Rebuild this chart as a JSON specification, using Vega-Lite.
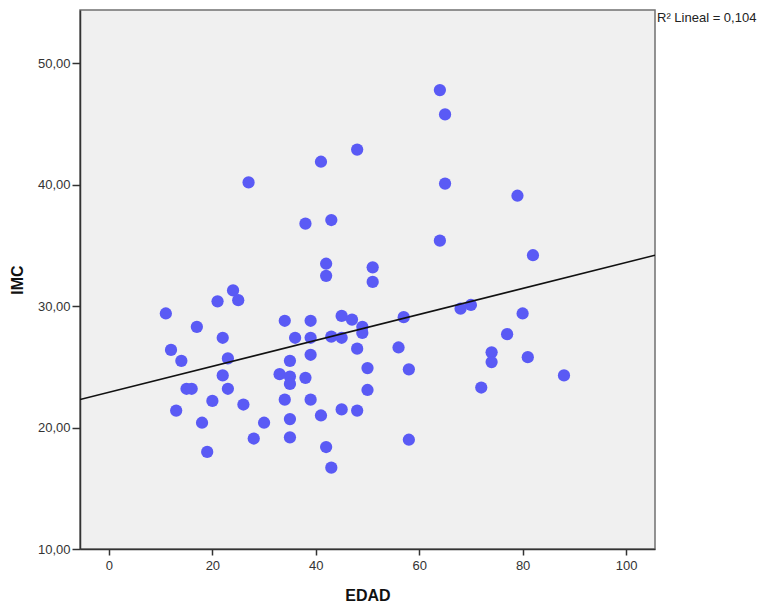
{
  "$schema": "https://vega.github.io/schema/vega-lite/v6.json",
  "autosize": "none",
  "width": 575,
  "height": 539,
  "padding": {"left": 80, "top": 10, "right": 113, "bottom": 63},
  "background": "#FFFFFF",
  "config": {
    "view": {"fill": "#F0F0F0", "stroke": "#707070", "strokeWidth": 1.5},
    "font": "Liberation Sans",
    "axis": {
      "grid": false,
      "domainColor": "#333333",
      "domainWidth": 1.5,
      "tickColor": "#333333",
      "tickWidth": 1.5,
      "labelColor": "#333333",
      "labelFont": "Liberation Sans",
      "labelFontSize": 13,
      "titleFont": "Liberation Sans",
      "titleFontSize": 16,
      "titleFontWeight": "bold",
      "titleColor": "#111111"
    }
  },
  "layer": [
    {
      "data": {
        "values": [
          {"EDAD": 27, "IMC": 40.2}, {"EDAD": 41, "IMC": 41.9}, {"EDAD": 48, "IMC": 42.9},
          {"EDAD": 38, "IMC": 36.8}, {"EDAD": 43, "IMC": 37.1}, {"EDAD": 42, "IMC": 33.5},
          {"EDAD": 42, "IMC": 32.5}, {"EDAD": 51, "IMC": 33.2}, {"EDAD": 51, "IMC": 32.0},
          {"EDAD": 64, "IMC": 47.8}, {"EDAD": 65, "IMC": 45.8}, {"EDAD": 65, "IMC": 40.1},
          {"EDAD": 79, "IMC": 39.1}, {"EDAD": 64, "IMC": 35.4}, {"EDAD": 82, "IMC": 34.2},
          {"EDAD": 24, "IMC": 31.3}, {"EDAD": 25, "IMC": 30.5}, {"EDAD": 21, "IMC": 30.4},
          {"EDAD": 11, "IMC": 29.4}, {"EDAD": 17, "IMC": 28.3}, {"EDAD": 34, "IMC": 28.8},
          {"EDAD": 39, "IMC": 28.8}, {"EDAD": 45, "IMC": 29.2}, {"EDAD": 47, "IMC": 28.9},
          {"EDAD": 49, "IMC": 28.3}, {"EDAD": 49, "IMC": 27.8}, {"EDAD": 22, "IMC": 27.4},
          {"EDAD": 36, "IMC": 27.4}, {"EDAD": 39, "IMC": 27.4}, {"EDAD": 43, "IMC": 27.5},
          {"EDAD": 45, "IMC": 27.4}, {"EDAD": 48, "IMC": 26.5}, {"EDAD": 12, "IMC": 26.4},
          {"EDAD": 39, "IMC": 26.0}, {"EDAD": 14, "IMC": 25.5}, {"EDAD": 23, "IMC": 25.7},
          {"EDAD": 35, "IMC": 25.5}, {"EDAD": 50, "IMC": 24.9}, {"EDAD": 22, "IMC": 24.3},
          {"EDAD": 33, "IMC": 24.4}, {"EDAD": 35, "IMC": 24.2}, {"EDAD": 35, "IMC": 23.6},
          {"EDAD": 38, "IMC": 24.1}, {"EDAD": 15, "IMC": 23.2}, {"EDAD": 16, "IMC": 23.2},
          {"EDAD": 23, "IMC": 23.2}, {"EDAD": 50, "IMC": 23.1}, {"EDAD": 20, "IMC": 22.2},
          {"EDAD": 34, "IMC": 22.3}, {"EDAD": 39, "IMC": 22.3}, {"EDAD": 26, "IMC": 21.9},
          {"EDAD": 13, "IMC": 21.4}, {"EDAD": 45, "IMC": 21.5}, {"EDAD": 48, "IMC": 21.4},
          {"EDAD": 41, "IMC": 21.0}, {"EDAD": 18, "IMC": 20.4}, {"EDAD": 30, "IMC": 20.4},
          {"EDAD": 35, "IMC": 20.7}, {"EDAD": 28, "IMC": 19.1}, {"EDAD": 35, "IMC": 19.2},
          {"EDAD": 42, "IMC": 18.4}, {"EDAD": 19, "IMC": 18.0}, {"EDAD": 43, "IMC": 16.7},
          {"EDAD": 57, "IMC": 29.1}, {"EDAD": 68, "IMC": 29.8}, {"EDAD": 70, "IMC": 30.1},
          {"EDAD": 80, "IMC": 29.4}, {"EDAD": 77, "IMC": 27.7}, {"EDAD": 56, "IMC": 26.6},
          {"EDAD": 74, "IMC": 26.2}, {"EDAD": 74, "IMC": 25.4}, {"EDAD": 81, "IMC": 25.8},
          {"EDAD": 58, "IMC": 24.8}, {"EDAD": 88, "IMC": 24.3}, {"EDAD": 72, "IMC": 23.3},
          {"EDAD": 58, "IMC": 19.0}
        ]
      },
      "mark": {"type": "point", "filled": true, "shape": "circle", "size": 150, "color": "#5A5AF5", "opacity": 1},
      "encoding": {
        "x": {
          "field": "EDAD", "type": "quantitative", "title": "EDAD",
          "scale": {"domain": [-5.6, 105.6], "nice": false, "zero": false},
          "axis": {"values": [0, 20, 40, 60, 80, 100], "tickSize": 6, "labelPadding": 4, "titlePadding": 15}
        },
        "y": {
          "field": "IMC", "type": "quantitative", "title": "IMC",
          "scale": {"domain": [10, 54.4], "nice": false, "zero": false},
          "axis": {
            "values": [10, 20, 30, 40, 50], "tickSize": 8, "labelPadding": 2, "titlePadding": 12,
            "labelExpr": "replace(format(datum.value, '.2f'), '.', ',')"
          }
        }
      }
    },
    {
      "data": {"values": [{"EDAD": -5.6, "IMC": 22.31}, {"EDAD": 105.6, "IMC": 34.2}]},
      "mark": {"type": "line", "color": "#111111", "strokeWidth": 1.5, "clip": true},
      "encoding": {
        "x": {"field": "EDAD", "type": "quantitative"},
        "y": {"field": "IMC", "type": "quantitative"}
      }
    },
    {
      "data": {"values": [{"EDAD": 105.6, "IMC": 53.74, "label": "R² Lineal = 0,104"}]},
      "mark": {"type": "text", "align": "left", "baseline": "middle", "dx": 2, "fontSize": 13, "font": "Liberation Sans", "color": "#222222"},
      "encoding": {
        "x": {"field": "EDAD", "type": "quantitative"},
        "y": {"field": "IMC", "type": "quantitative"},
        "text": {"field": "label"}
      }
    }
  ]
}
